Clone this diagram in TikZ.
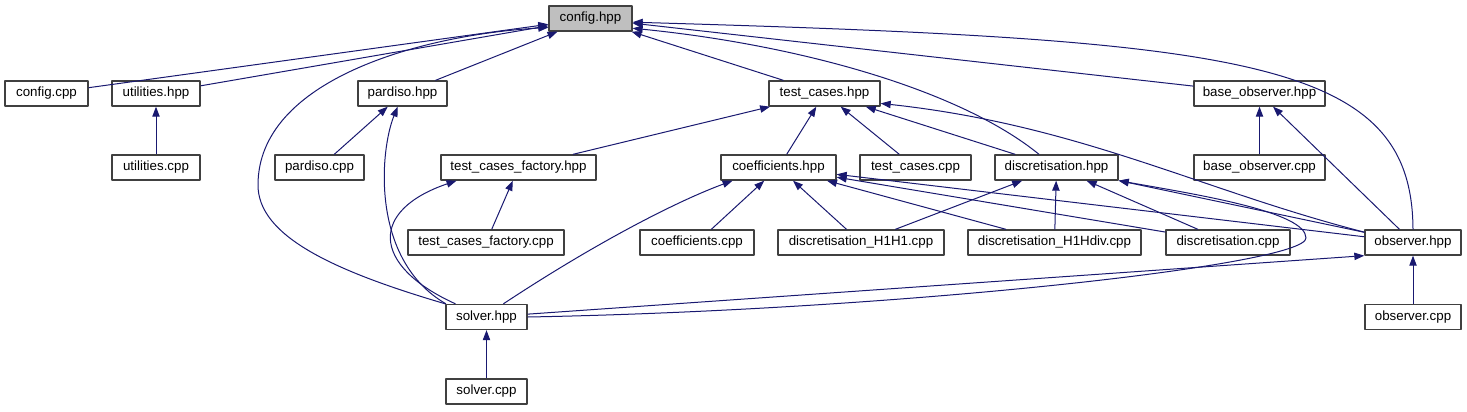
\documentclass[tikz,border=0pt]{standalone}
\usepackage{fontspec}
\setmainfont{Liberation Sans}
\usetikzlibrary{arrows.meta}
\definecolor{edgeblue}{HTML}{191970}
\definecolor{boxline}{HTML}{404040}
\definecolor{boxfill}{HTML}{BFBFBF}

\begin{document}
\begin{tikzpicture}[x=0.75pt,y=-0.75pt,line join=round,
    file/.style={draw=boxline,line width=1pt,fill=white,minimum height=18.75pt,inner sep=0pt,font=\fontsize{10pt}{12pt}\selectfont},
    inc/.style={edgeblue,line width=0.75pt,-{Triangle[length=7.5pt,width=5.5pt]}}]
    \useasboundingbox (0,0) rectangle (1467,411);
    \node[file,fill=boxfill,minimum width=62.25pt] (config) at (590.5,18.5) {config.hpp};
    \node[file,minimum width=62.25pt] (configcpp) at (46.5,93.5) {config.cpp};
    \node[file,minimum width=66pt] (utilhpp) at (156,93.5) {utilities.hpp};
    \node[file,minimum width=66.75pt] (pardisohpp) at (402.5,93.5) {pardiso.hpp};
    \node[file,minimum width=83.25pt] (tchpp) at (824.5,93.5) {test\_cases.hpp};
    \node[file,minimum width=98.25pt] (bobshpp) at (1259.5,93.5) {base\_observer.hpp};
    \node[file,minimum width=66pt] (utilcpp) at (156,167.5) {utilities.cpp};
    \node[file,minimum width=66.75pt] (pardisocpp) at (319.5,167.5) {pardiso.cpp};
    \node[file,minimum width=116.25pt] (tcfhpp) at (518.5,167.5) {test\_cases\_factory.hpp};
    \node[file,minimum width=86.25pt] (coefhpp) at (778.5,167.5) {coefficients.hpp};
    \node[file,minimum width=83.25pt] (tccpp) at (915.5,167.5) {test\_cases.cpp};
    \node[file,minimum width=92.25pt] (dischpp) at (1056.5,167.5) {discretisation.hpp};
    \node[file,minimum width=98.25pt] (bobscpp) at (1259.5,167.5) {base\_observer.cpp};
    \node[file,minimum width=117pt] (tcfcpp) at (486,242.5) {test\_cases\_factory.cpp};
    \node[file,minimum width=85.5pt] (coefcpp) at (697,242.5) {coefficients.cpp};
    \node[file,minimum width=124.5pt] (hh) at (861,242.5) {discretisation\_H1H1.cpp};
    \node[file,minimum width=129.75pt] (hdiv) at (1054.5,242.5) {discretisation\_H1Hdiv.cpp};
    \node[file,minimum width=93pt] (disccpp) at (1228,242.5) {discretisation.cpp};
    \node[file,minimum width=72pt] (obshpp) at (1413,242.5) {observer.hpp};
    \node[file,minimum width=60.75pt] (solverhpp) at (486.5,317) {solver.hpp};
    \node[file,minimum width=72pt] (obscpp) at (1413,317) {observer.cpp};
    \node[file,minimum width=60.75pt] (solvercpp) at (486.5,391.5) {solver.cpp};

    \draw[inc] (configcpp) -- (config);
    \draw[inc] (utilhpp) -- (config);
    \draw[inc] (pardisohpp) -- (config);
    \draw[inc] (tchpp) -- (config);
    \draw[inc] (bobshpp) -- (config);
    \draw[inc] (solverhpp.north west) .. controls (330,270) and (258,235) .. (258,185) .. controls (258,80) and (420,35) .. (config.192);
    \draw[inc] (dischpp.143) .. controls (960,90) and (800,45) .. (config.-13);
    \draw[inc] (obshpp.north) .. controls (1412,60) and (1250,40) .. (config.-5);
    \draw[inc] (utilcpp) -- (utilhpp);
    \draw[inc] (pardisocpp) -- (pardisohpp);
    \draw[inc] (solverhpp.162) .. controls (370,260) and (380,150) .. (pardisohpp.250);
    \draw[inc] (bobscpp) -- (bobshpp);
    \draw[inc] (obshpp) -- (bobshpp);
    \draw[inc] (tcfhpp) -- (tchpp);
    \draw[inc] (coefhpp) -- (tchpp);
    \draw[inc] (tccpp) -- (tchpp);
    \draw[inc] (dischpp) -- (tchpp);
    \draw[inc] (obshpp.168) .. controls (1200,190) and (1080,125) .. (tchpp.-10);
    \draw[inc] (tcfcpp) -- (tcfhpp);
    \draw[inc] (solverhpp.157) .. controls (370,265) and (370,210) .. (tcfhpp.192);
    \draw[inc] (solverhpp.38) .. controls (600,240) and (680,200) .. (coefhpp.196);
    \draw[inc] (coefcpp) -- (coefhpp);
    \draw[inc] (hh) -- (coefhpp);
    \draw[inc] (hdiv) -- (coefhpp);
    \draw[inc] (disccpp) -- (coefhpp);
    \draw[inc] (obshpp) -- (coefhpp);
    \draw[inc] (hh) -- (dischpp);
    \draw[inc] (hdiv) -- (dischpp);
    \draw[inc] (disccpp) -- (dischpp);
    \draw[inc] (obshpp) -- (dischpp);
    \draw[inc] (solverhpp.east) .. controls (900,310) and (1306,265) .. (1306,238) .. controls (1306,212) and (1200,195) .. (dischpp.south east);
    \draw[inc] (solverhpp) -- (obshpp.south west);
    \draw[inc] (obscpp) -- (obshpp);
    \draw[inc] (solvercpp) -- (solverhpp);
\end{tikzpicture}
\end{document}
